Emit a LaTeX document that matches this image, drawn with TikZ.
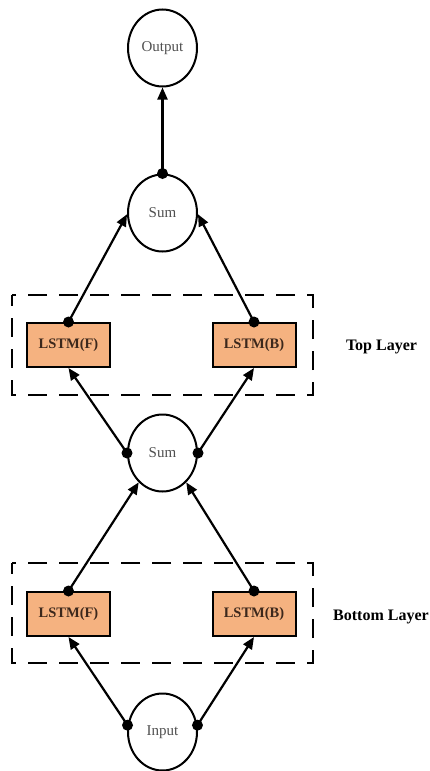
\documentclass[tikz,border=0pt]{standalone}
\usepackage{fontspec}
\setmainfont{Liberation Serif}
\usetikzlibrary{shapes.geometric,arrows.meta}

\definecolor{lstmfill}{RGB}{245,178,128}
\definecolor{lstmtext}{RGB}{60,40,28}
\definecolor{circtext}{RGB}{80,80,80}

\tikzset{
  unit/.style={ellipse, draw, line width=2pt, minimum width=69pt,
    minimum height=77pt, inner sep=0pt, text=circtext,
    font=\fontsize{15}{17}\selectfont},
  cell/.style={rectangle, draw, line width=2pt, fill=lstmfill,
    minimum width=83pt, minimum height=44pt, inner sep=0pt, text=lstmtext,
    font=\fontsize{14.5}{16}\selectfont\bfseries},
  layerbox/.style={draw, line width=2.3pt, dash pattern=on 19pt off 12pt,
    dash phase=8pt},
  layerlabel/.style={font=\fontsize{16}{18}\selectfont\bfseries},
  link/.style={line width=2.2pt, -{Triangle[length=12pt,width=10pt]}}
}

\begin{document}
\begin{tikzpicture}[x=1pt, y=-1pt]
  \useasboundingbox (0,0) rectangle (430,771);

  % dashed frames around the two LSTM layers
  \draw[layerbox] (12,295) rectangle (313,395);
  \draw[layerbox] (12,563) rectangle (313,663);

  % nodes
  \node[unit] (out)  at (162.5,48)  {Output};
  \node[unit] (sumT) at (162.5,213) {Sum};
  \node[unit] (sumM) at (162.5,453) {Sum};
  \node[unit] (inp)  at (162.5,732) {Input};

  \node[cell] (lfT) at (68.5,345) {LSTM(F)};
  \node[cell] (lbT) at (254,345)  {LSTM(B)};
  \node[cell] (lfB) at (68.5,614) {LSTM(F)};
  \node[cell] (lbB) at (254,614)  {LSTM(B)};

  \node[layerlabel] (topL) at (381.5,347) {Top Layer};
  \node[layerlabel] (botL) at (381,617) {Bottom Layer};

  % connectors
  \draw[link] (sumT.north) -- (out.south);
  \draw[link] (lfT.north) -- (sumT.182);
  \draw[link] (lbT.north) -- (sumT.-2);
  \draw[link] (sumM.180) -- (lfT.south);
  \draw[link] (sumM.0) -- (lbT.south);
  \draw[link] (lfB.north) -- (sumM.231);
  \draw[link] (lbB.north) -- (sumM.309);
  \draw[link] (inp.169) -- (lfB.south);
  \draw[link] (inp.11) -- (lbB.south);

  % junction dots at the start of every connector
  \foreach \p in {sumT.north, lfT.north, lbT.north, sumM.180, sumM.0,
                  lfB.north, lbB.north, inp.169, inp.11}
    \fill (\p) circle[radius=5.5pt];
\end{tikzpicture}
\end{document}
